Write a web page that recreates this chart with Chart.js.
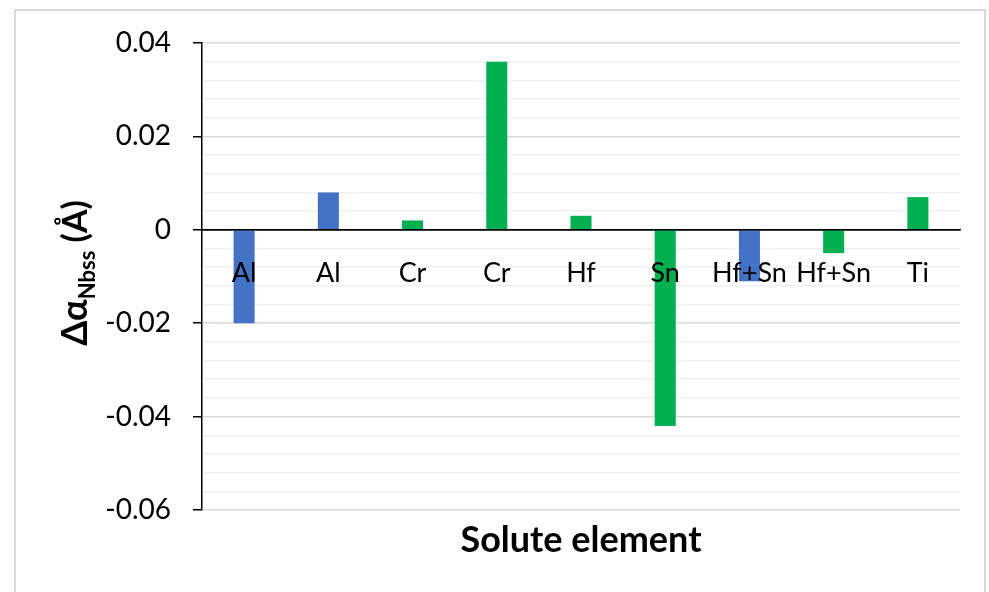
<!DOCTYPE html>
<html>
<head>
<meta charset="utf-8">
<script src="https://cdn.jsdelivr.net/npm/chart.js@4"></script>
<style>
  html, body { margin: 0; padding: 0; background: #fff; overflow: hidden; }
  #wrap { position: relative; width: 989px; height: 592px; }
  #frame { position: absolute; left: 14px; top: 9px; width: 972px; height: 600px; border: 2px solid #d9d9d9; box-sizing: border-box; }
  canvas { position: absolute; left: 0; top: 0; }
</style>
</head>
<body>
<div id="wrap">
  <div id="frame"></div>
  <canvas id="chart" width="989" height="592"></canvas>
</div>
<script>
// solute elements and lattice parameter change of Nb solid solution
const categories = ['Al', 'Al', 'Cr', 'Cr', 'Hf', 'Sn', 'Hf+Sn', 'Hf+Sn', 'Ti'];
const values = [-0.02, 0.008, 0.002, 0.036, 0.003, -0.042, -0.011, -0.005, 0.007];
const groups = ['blue', 'blue', 'green', 'green', 'green', 'green', 'blue', 'green', 'green'];
const yMin = -0.06;
const yMax = 0.04;
const yStep = 0.004;
const yMajor = 0.02;

const groupColor = { blue: '#4472C4', green: '#00B050' };
const FONT = "Lato, 'Noto Sans', sans-serif";

function isMajor(v) {
  return Math.round(v * 1000) % Math.round(yMajor * 1000) === 0;
}

const titles = {
  id: 'titles',
  afterDraw(chart) {
    const ctx = chart.ctx;
    const area = chart.chartArea;
    ctx.save();
    ctx.fillStyle = '#000';
    ctx.textBaseline = 'alphabetic';
    // x title
    ctx.font = 'bold 36px ' + FONT;
    ctx.textAlign = 'center';
    ctx.fillText('Solute element', (area.left + area.right) / 2, 552);
    // y title with subscript
    const parts = [
      { t: 'Δα', f: 'bold 36px ' + FONT, dy: 0 },
      { t: 'Nbss', f: 'bold 22px ' + FONT, dy: 8 },
      { t: ' (Å)', f: 'bold 34px ' + FONT, dy: 0 }
    ];
    let total = 0;
    for (const p of parts) { ctx.font = p.f; p.w = ctx.measureText(p.t).width; total += p.w; }
    ctx.translate(87, 273);
    ctx.rotate(-Math.PI / 2);
    ctx.textAlign = 'left';
    let x = -total / 2;
    for (const p of parts) {
      ctx.font = p.f;
      ctx.fillText(p.t, x, p.dy);
      x += p.w;
    }
    ctx.restore();
  }
};

new Chart(document.getElementById('chart').getContext('2d'), {
  type: 'bar',
  data: {
    labels: categories,
    datasets: [{
      data: values,
      backgroundColor: groups.map(g => groupColor[g]),
      borderWidth: 0,
      barPercentage: 0.25,
      categoryPercentage: 1
    }]
  },
  options: {
    responsive: false,
    animation: false,
    layout: { padding: { left: 0, top: 43, right: 29, bottom: 82 } },
    plugins: { legend: { display: false }, tooltip: { enabled: false } },
    scales: {
      x: {
        position: { y: 0 },
        grid: { display: false, drawTicks: false },
        border: { display: true, color: '#000', width: 1.5, z: 1 },
        ticks: { z: 1, color: '#000', font: { family: FONT, size: 27 }, padding: 27, maxRotation: 0, autoSkip: false }
      },
      y: {
        min: yMin,
        max: yMax,
        afterFit: s => { s.width = 202; },
        border: { display: true, color: '#000', width: 1.5 },
        grid: {
          color: c => c.tick && c.tick.value === 0 ? '#000' : (isMajor(c.tick ? c.tick.value : 1) ? '#d9d9d9' : '#f0f0f0'),
          lineWidth: 1.5,
          tickLength: 9,
          tickColor: c => isMajor(c.tick.value) ? '#000' : 'rgba(0,0,0,0)',
          tickWidth: 1.5
        },
        ticks: {
          stepSize: yStep,
          autoSkip: false,
          padding: 22,
          color: '#000',
          font: { family: FONT, size: 28 },
          callback: v => isMajor(v) ? (Math.abs(v) < 1e-9 ? '0' : v.toFixed(2)) : ''
        }
      }
    }
  },
  plugins: [titles]
});
</script>
</body>
</html>
